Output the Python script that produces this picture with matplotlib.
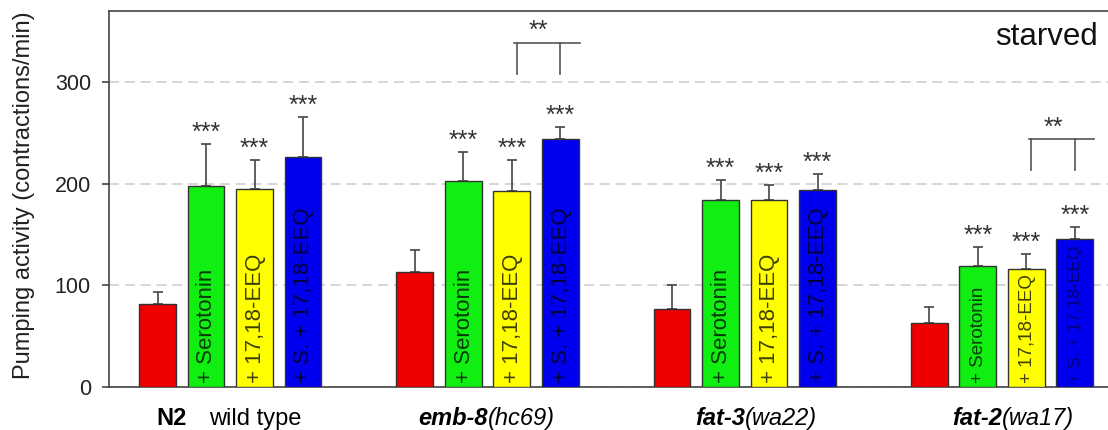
import matplotlib
matplotlib.use('Agg')
import matplotlib.pyplot as plt

plt.rcParams['font.family'] = ['Liberation Sans', 'DejaVu Sans']

# Data
strains = ['N2', 'emb-8', 'fat-3', 'fat-2']
strain_alleles = ['wild type', '(hc69)', '(wa22)', '(wa17)']
treatments = ['control', '+ Serotonin', '+ 17,18-EEQ', '+ S. + 17,18-EEQ']
colors = ['#ee0000', '#11ee11', '#ffff00', '#0000ee']

means = [
    [82, 198, 195, 226],   # N2
    [113, 203, 193, 244],  # emb-8(hc69)
    [77, 184, 184, 194],   # fat-3(wa22)
    [63, 119, 116, 146],   # fat-2(wa17)
]
errors = [
    [11, 41, 28, 40],
    [22, 28, 30, 12],
    [23, 20, 15, 16],
    [16, 19, 15, 11],
]
stars = [
    ['', '***', '***', '***'],
    ['', '***', '***', '***'],
    ['', '***', '***', '***'],
    ['', '***', '***', '***'],
]
# pairwise comparison: (group, bar a, bar b, bracket height, leg bottom, label)
brackets = [(1, 2, 3, 339, 308, '**'), (3, 2, 3, 244, 214, '**')]

group_gap = 5.305
bar_w = 0.76

fig = plt.figure(figsize=(11.08, 4.30), dpi=100)
ax = fig.add_axes([0.0984, 0.1, 0.9016, 0.8744])

for g in range(len(strains)):
    for j in range(4):
        x = g * group_gap + j
        ax.bar(x, means[g][j], width=bar_w, color=colors[j],
               edgecolor='#333333', linewidth=1.0, zorder=3)
        ax.errorbar(x, means[g][j], yerr=[[0], [errors[g][j]]], fmt='none',
                    ecolor='#444444', elinewidth=1.2, capsize=3.5,
                    capthick=1.2, zorder=2)
        if stars[g][j]:
            ax.annotate(stars[g][j], (x, means[g][j] + errors[g][j]),
                        xytext=(0, 3), textcoords='offset points',
                        ha='center', va='baseline', fontsize=18,
                        color='#333333')
        if j > 0:
            small = g == 3
            size = 16 if not small else (13.5 if j < 3 else 12.5)
            alpha = 0.75 if not (small and j == 3) else 0.5
            ax.text(x + 0.02, 3.5, treatments[j], rotation=90, ha='center',
                    va='bottom', fontsize=size, color='black', alpha=alpha,
                    zorder=4)

# significance brackets
for g, a, b, h, low, lab in brackets:
    xa = g * group_gap + a + 0.1
    xb = g * group_gap + b
    ax.plot([xa - 0.05, xb + 0.4], [h, h], color='#555555', lw=1.2)
    ax.plot([xa, xa], [low, h], color='#555555', lw=1.2)
    ax.plot([xb, xb], [low, h], color='#555555', lw=1.2)
    ax.annotate(lab, ((xa + xb) / 2, h), xytext=(0, 3),
                textcoords='offset points', ha='center', va='baseline',
                fontsize=18, color='#333333')

# group labels
for g in range(len(strains)):
    cx = g * group_gap + 1.5
    if g == 0:
        ax.text(cx - 1.52, -31, strains[g], ha='left', va='center',
                fontsize=17, fontweight='bold', clip_on=False)
        ax.text(cx - 0.44, -31, strain_alleles[g], ha='left', va='center',
                fontsize=17, clip_on=False)
    else:
        ax.text(cx, -31, strains[g], ha='right', va='center',
                fontsize=17, fontweight='bold', fontstyle='italic',
                clip_on=False)
        ax.text(cx, -31, strain_alleles[g], ha='left', va='center',
                fontsize=17, fontstyle='italic', clip_on=False)

ax.text(0.99, 0.93, 'starved', transform=ax.transAxes, ha='right',
        va='center', fontsize=22.5, color='#111111')

ax.set_xlim(-1.0, 19.6)
ax.set_ylim(0, 370)
ax.set_yticks([0, 100, 200, 300])
ax.set_xticks([])
ax.yaxis.grid(True, linestyle=(0, (6, 3.5)), color='#d0d0d0', linewidth=1.2)
ax.set_axisbelow(True)
ax.tick_params(axis='y', length=5, width=1.2, color='#444444', pad=8,
               labelsize=15.5, labelcolor='#222222')
for side in ['left', 'bottom', 'top']:
    ax.spines[side].set_color('#444444')
    ax.spines[side].set_linewidth(1.2)
ax.spines['right'].set_visible(False)
ax.set_ylabel('Pumping activity (contractions/min)', fontsize=17,
              color='#222222')
ax.yaxis.set_label_coords(-0.074, 0.51)

fig.savefig('out.png', dpi=100)
